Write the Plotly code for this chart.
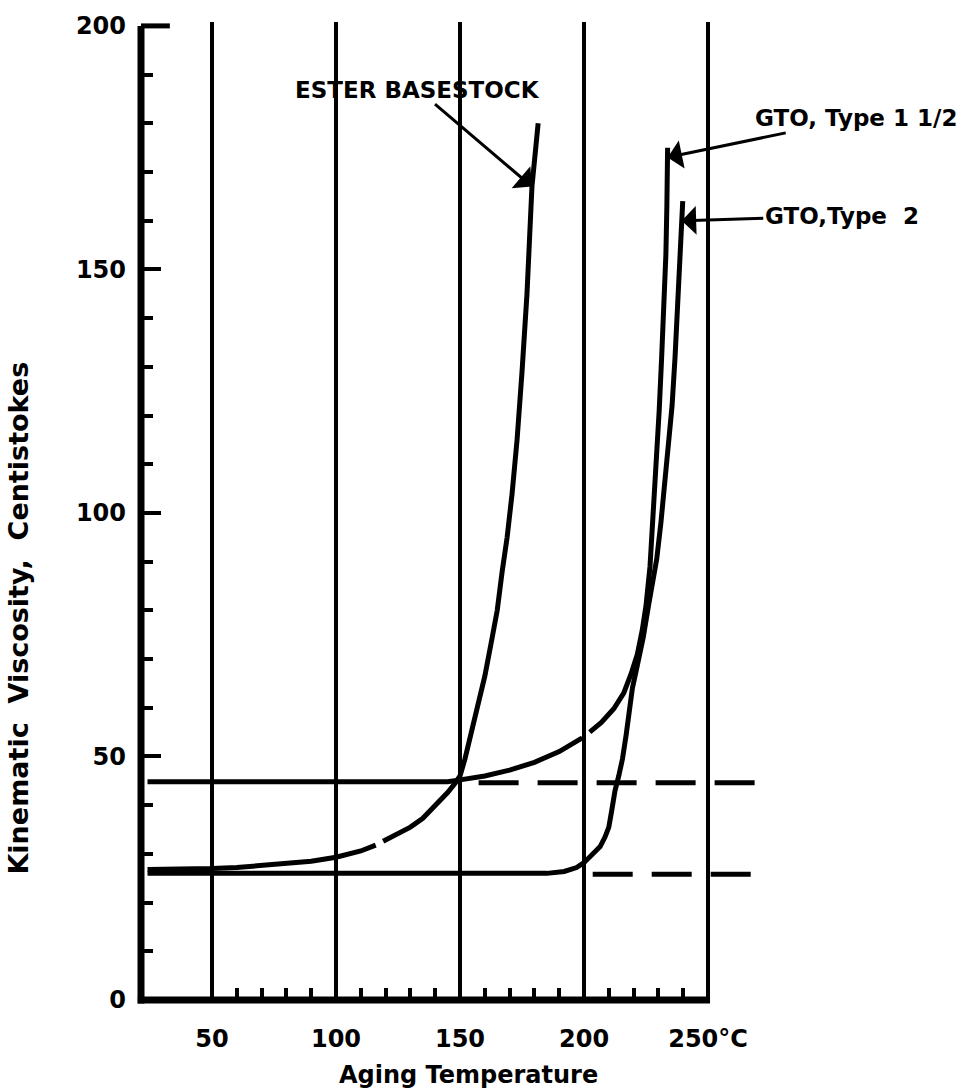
import plotly.graph_objects as go

# ---------------- data ----------------
ester_x = [24, 40, 50, 60, 70, 80, 90, 100, 110, 116, None, 119, 125, 130, 135, 140, 145, 148, 150,
           152, 154, 157, 160, 163, 165, 167, 169, 171, 173, 175, 177, 179, 180.5, 181.5]
ester_y = [26.8, 26.8, 27.0, 27.2, 27.6, 28.0, 28.5, 29.3, 30.6, 31.8, None, 32.6, 34.2, 35.5, 37.3,
           39.8, 42.6, 44.5, 46.0, 49.5, 53.7, 60, 66.5, 74.5, 80, 88, 95, 104, 115, 129, 145, 167, 175, 180]

gto15_x = [24, 60, 100, 130, 145, 150, 160, 170, 180, 190, 199.3, None, 202.3, 207, 212, 216, 219,
           221.5, 223.5, 225, 226.6, 228, 229.3, 230.3, 231.3, 232.2, 233, 233.4, 233.7]
gto15_y = [44.8, 44.8, 44.8, 44.7, 44.8, 45.2, 46.0, 47.2, 48.8, 51.0, 53.8, None, 55.0, 57.0, 59.8,
           63, 67, 71, 76, 81, 89, 100, 111, 121, 132, 142, 153, 163, 175]

gto2_x = [24, 80, 150, 185, 192, 197, 200, 203, 206.5, 208.5, 210, 211.2, 212.5, 214, 215.5, 217,
          218.5, 219.5, 221.4, 223.9, 226, 227.8, 229.3, 231, 232.5, 234, 235.5, 236.7, 237.8, 238.7,
          239.4, 239.8]
gto2_y = [26.0, 26.0, 25.9, 26.0, 26.4, 27.2, 28.2, 29.8, 31.5, 33.5, 35.5, 39, 43, 46, 49.5, 54.5,
          60, 64, 68.5, 74.5, 81, 86, 90.5, 98, 106, 113, 122, 132, 143, 153, 160, 164]

ext15_x = [157.5, 270]
ext15_y = [44.6, 44.6]
ext2_x = [203.5, 271]
ext2_y = [25.8, 25.8]

x_major = [50, 100, 150, 200, 250]
x_major_text = ["50", "100", "150", "200", "250°C"]
x_minor = [v for v in range(60, 250, 10) if v % 50 != 0]
y_major = [0, 50, 100, 150, 200]
y_major_text = ["0", "50", "100", "150", "200"]
y_minor = [v for v in range(10, 200, 10) if v % 50 != 0]

x_range = [21.37, 277.0]
y_range = [0, 200.8]

FONT = "DejaVu Sans"
INK = "black"
NB = "\u00a0"

fig = go.Figure()

def add_line(x, y, dash="solid", width=5):
    fig.add_trace(go.Scatter(x=x, y=y, mode="lines", connectgaps=False,
                             line=dict(color=INK, width=width, dash=dash),
                             showlegend=False, hoverinfo="skip"))

add_line(ester_x, ester_y)
add_line(gto15_x, gto15_y)
add_line(gto2_x, gto2_y)
add_line(ext15_x, ext15_y, dash="40px,19px")
add_line(ext2_x, ext2_y, dash="40px,19px")

tickfont = dict(family=FONT, size=24, color=INK, weight="bold")

fig.update_layout(
    width=965, height=1090,
    margin=dict(l=141, r=190, t=18, b=90),
    paper_bgcolor="white", plot_bgcolor="white",
    showlegend=False,
    xaxis=dict(range=x_range, tickmode="array", tickvals=x_major, ticktext=x_major_text,
               ticks="inside", ticklen=18, tickwidth=4, tickcolor=INK,
               showgrid=True, gridcolor=INK, gridwidth=4, zeroline=False, showline=False,
               tickfont=tickfont, ticklabelstandoff=22,
               minor=dict(tickmode="array", tickvals=x_minor, ticks="inside", ticklen=12,
                          tickwidth=4, tickcolor=INK, showgrid=False)),
    yaxis=dict(range=y_range, tickmode="array", tickvals=y_major, ticktext=y_major_text,
               ticks="inside", ticklen=20, tickwidth=4, tickcolor=INK,
               showgrid=False, zeroline=False, showline=False,
               tickfont=tickfont, ticklabelstandoff=14,
               minor=dict(tickmode="array", tickvals=y_minor, ticks="inside", ticklen=12,
                          tickwidth=4, tickcolor=INK, showgrid=False)),
)

xspan = x_range[1] - x_range[0]
yspan = y_range[1] - y_range[0]
def px_(v):
    return (v - x_range[0]) / xspan
def py_(v):
    return (v - y_range[0]) / yspan

# axis lines (x axis stops at 250)
fig.add_shape(type="line", xref="paper", yref="paper", x0=0, x1=0, y0=-0.0036, y1=py_(200),
              line=dict(color=INK, width=7))
fig.add_shape(type="line", xref="paper", yref="paper", x0=-0.005, x1=px_(250.8), y0=0, y1=0,
              line=dict(color=INK, width=7))
fig.add_shape(type="line", xref="paper", yref="paper", x0=0, x1=px_(33), y0=py_(200), y1=py_(200),
              line=dict(color=INK, width=5))

lab = dict(family=FONT, size=23, color=INK, weight="bold")

# ESTER BASESTOCK
fig.add_annotation(x=ester_x[31], y=ester_y[31], xref="x", yref="y", text="ESTER BASESTOCK",
                   showarrow=True, ax=-114, ay=-97, arrowhead=1, arrowsize=1.6, arrowwidth=3,
                   arrowcolor=INK, font=lab)
# GTO, Type 1 1/2
fig.add_annotation(x=gto15_x[-1], y=gto15_y[-1] - 2, xref="x", yref="y", text="GTO, Type 1 1/2",
                   showarrow=True, ax=188, ay=-39, arrowhead=1, arrowsize=1.6, arrowwidth=3,
                   arrowcolor=INK, font=dict(family=FONT, size=23, color=INK, weight="bold"))
# GTO, Type 2
fig.add_annotation(x=gto2_x[-2], y=gto2_y[-2], xref="x", yref="y", text="GTO,Type" + NB + NB + "2",
                   showarrow=True, ax=160, ay=-5, arrowhead=1, arrowsize=1.6, arrowwidth=3,
                   arrowcolor=INK, font=dict(family=FONT, size=23, color=INK, weight="bold"))

# axis titles
fig.add_annotation(xref="paper", yref="paper", x=(468 - 141) / 634, y=(1000 - 1075) / 982,
                   xanchor="center", yanchor="middle",
                   text="Aging Temperature", showarrow=False,
                   font=dict(family=FONT, size=24, color=INK, weight="bold"))
fig.add_annotation(xref="paper", yref="paper", x=(19 - 141) / 634, y=(1000 - 617) / 982,
                   xanchor="center", yanchor="middle",
                   text="Kinematic" + NB * 2 + "Viscosity," + NB * 2 + "Centistokes",
                   showarrow=False, textangle=-90,
                   font=dict(family=FONT, size=27, color=INK, weight="bold"))

fig.write_html("out.html")
